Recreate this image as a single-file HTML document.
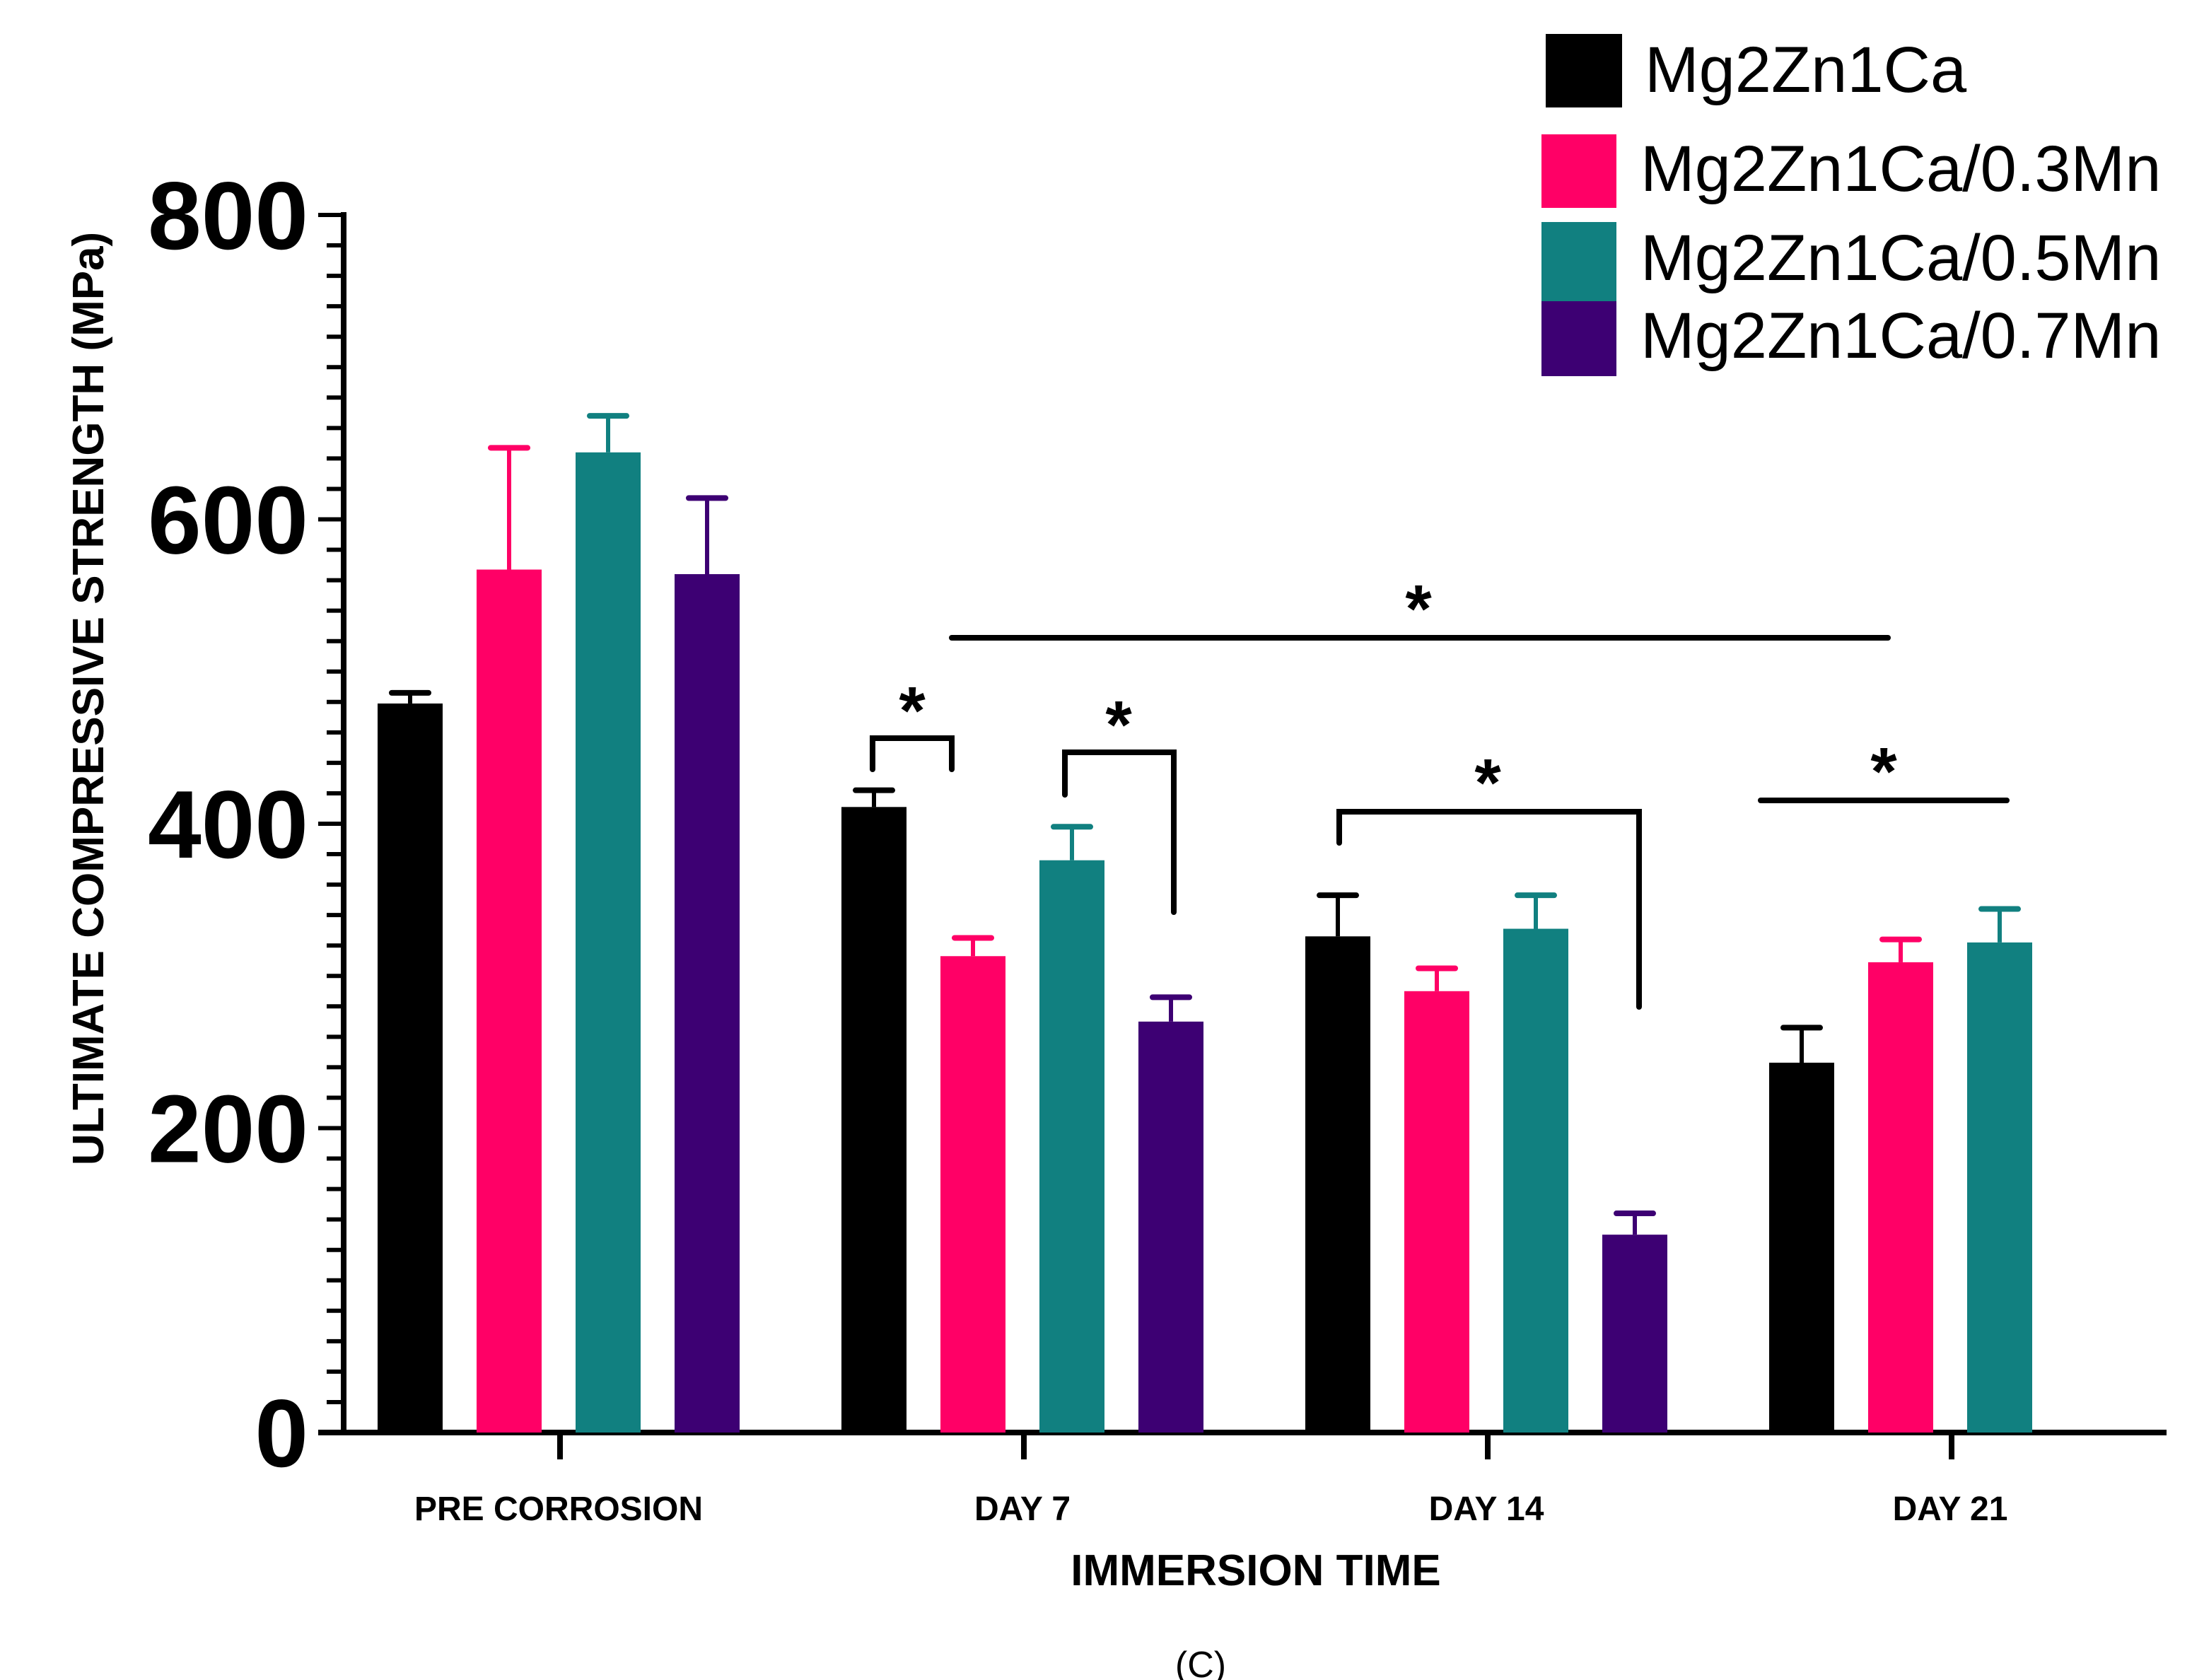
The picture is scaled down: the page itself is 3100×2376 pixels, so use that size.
<!DOCTYPE html>
<html><head><meta charset="utf-8"><style>
html,body{margin:0;padding:0;background:#fff;}
svg{display:block;font-family:"Liberation Sans",Arial,sans-serif;}
</style></head><body>
<svg id="chart" width="3100" height="2376" viewBox="0 0 1550 1188" xmlns="http://www.w3.org/2000/svg">
<g id="axes"></g>
<g id="bars"></g>
<g id="annot" stroke="#000" stroke-width="4" fill="none" stroke-linecap="round">
  <polyline points="617,544 617,522 673,522 673,544"/>
  <polyline points="753,562 753,532 830,532 830,645"/>
  <polyline points="947,596 947,574 1159,574 1159,712"/>
  <line x1="673" y1="451" x2="1335" y2="451"/>
  <line x1="1245" y1="566" x2="1419" y2="566"/>
</g>
<g font-weight="bold" font-size="48" text-anchor="middle" fill="#000">
  <text x="645" y="519">*</text>
  <text x="791" y="529">*</text>
  <text x="1003" y="447">*</text>
  <text x="1052" y="570">*</text>
  <text x="1332" y="562">*</text>
</g>
<g id="legend" font-size="46" fill="#000">
  <g><rect x="1093" y="24" width="54" height="52" fill="#000"/><text x="1163" y="65">Mg2Zn1Ca</text></g>
  <g><rect x="1090" y="95" width="53" height="52" fill="#FF0066"/><text x="1160" y="135">Mg2Zn1Ca/0.3Mn</text></g>
  <g><rect x="1090" y="157" width="53" height="56" fill="#118080"/><text x="1160" y="198">Mg2Zn1Ca/0.5Mn</text></g>
  <g><rect x="1090" y="213" width="53" height="53" fill="#3D0073"/><text x="1160" y="253">Mg2Zn1Ca/0.7Mn</text></g>
</g>
<text transform="translate(73,494) rotate(-90)" text-anchor="middle" font-weight="bold" font-size="31">ULTIMATE COMPRESSIVE STRENGTH (MPa)</text>
<text x="888" y="1121" text-anchor="middle" font-weight="bold" font-size="31">IMMERSION TIME</text>
<text x="849" y="1186" text-anchor="middle" font-size="26">(C)</text>
</svg>
<script>
const categories = ["PRE CORROSION", "DAY 7", "DAY 14", "DAY 21"];
const seriesNames = ["Mg2Zn1Ca", "Mg2Zn1Ca/0.3Mn", "Mg2Zn1Ca/0.5Mn", "Mg2Zn1Ca/0.7Mn"];
const mg2zn1ca = [479, 411, 326, 243];
const mn03 = [567, 313, 290, 309];
const mn05 = [644, 376, 331, 322];
const mn07 = [564, 270, 130, null];
const mg2zn1caErr = [7, 11, 27, 23];
const mn03Err = [80, 12, 15, 15];
const mn05Err = [24, 22, 22, 22];
const mn07Err = [50, 16, 14, null];
const yTicks = [0, 200, 400, 600, 800];

const colors = ["#000000", "#FF0066", "#118080", "#3D0073"];
const NS = "http://www.w3.org/2000/svg";
const Y0 = 1013, Y800 = 152;
function yScale(v){ return Y0 - (v/800)*(Y0-Y800); }
function xCenter(ci){ return 395 + ci*328; }
function barX(ci, si){ return xCenter(ci) - 105 + si*70 - 23; }
function mk(tag, attrs, parent){ const e=document.createElementNS(NS,tag); for(const k in attrs) e.setAttribute(k,attrs[k]); parent.appendChild(e); return e; }

const axes = document.getElementById('axes');
const yAxis = mk('line',{x1:243,y1:Y800-2,x2:243,y2:Y0+2,stroke:'#000','stroke-width':4},axes);


const xAxis = mk('line',{x1:225,y1:Y0,x2:1532,y2:Y0,stroke:'#000','stroke-width':4},axes);


for(let v=0; v<=800; v+=20){
  const major = v%200===0;
  const t = mk('line',{x1:major?225:231,y1:yScale(v),x2:243,y2:yScale(v),stroke:'#000','stroke-width':3},axes);
  
  
}
yTicks.forEach(v=>{
  const t = mk('text',{x:218,y:yScale(v)+24,'text-anchor':'end','font-weight':'bold','font-size':68},axes);
  t.textContent = v;
  
  
});
categories.forEach((c,i)=>{
  const t = mk('line',{x1:xCenter(i)+1,y1:Y0,x2:xCenter(i)+1,y2:Y0+19,stroke:'#000','stroke-width':4},axes);
  
  
  const l = mk('text',{x:xCenter(i),y:1075,'text-anchor':'middle','font-weight':'bold','font-size':24},axes);
  l.textContent = c;
  
  
});

const bars = document.getElementById('bars');
const series = [mg2zn1ca, mn03, mn05, mn07];
const errs = [mg2zn1caErr, mn03Err, mn05Err, mn07Err];
series.forEach((vals, si)=>{
  vals.forEach((v, ci)=>{
    if(v===null) return;
    const x = barX(ci, si), cx = x+23;
    const r = mk('rect',{x:x,y:yScale(v),width:46,height:Y0-yScale(v),fill:colors[si]},bars);
    
    
    const e = errs[si][ci];
    const top = yScale(v+e);
    const el = mk('line',{x1:cx,y1:yScale(v),x2:cx,y2:top,stroke:colors[si],'stroke-width':3},bars);
    
    
    const cap = mk('line',{x1:cx-13,y1:top,x2:cx+13,y2:top,stroke:colors[si],'stroke-width':4,'stroke-linecap':'round'},bars);
    
    
  });
});
</script>
</body></html>
